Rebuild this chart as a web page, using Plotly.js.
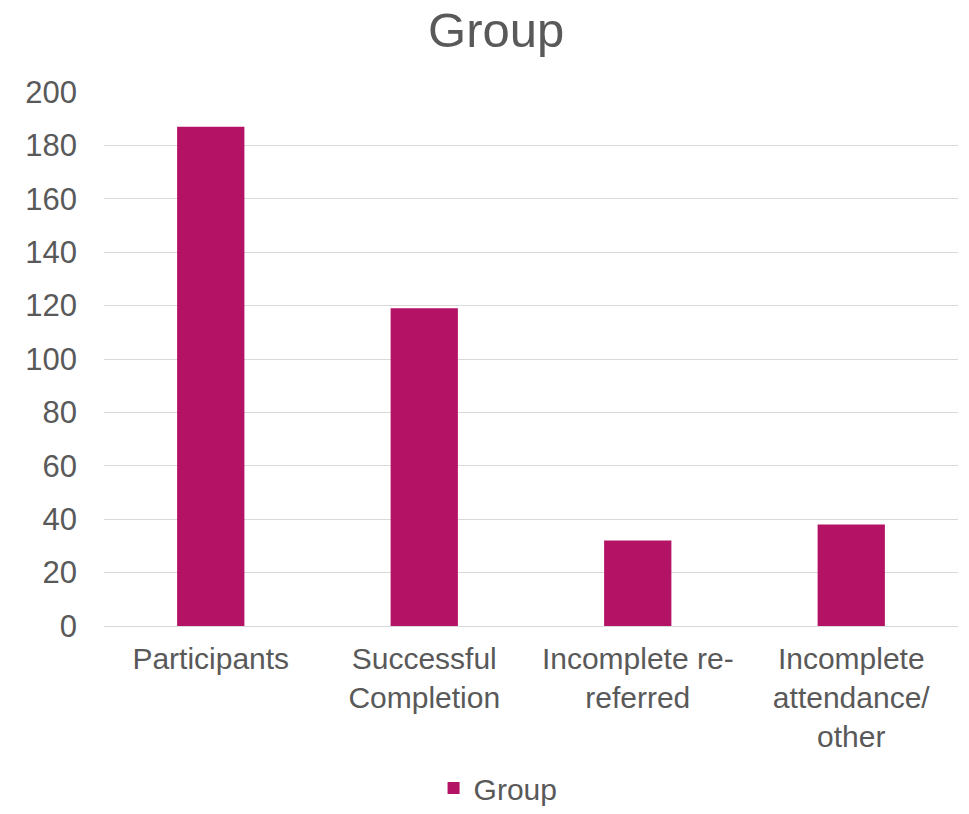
<!DOCTYPE html>
<html>
<head>
<meta charset="utf-8">
<script src="https://cdn.plot.ly/plotly-3.0.1.min.js"></script>
<style>html,body{margin:0;padding:0;background:#fff;}#chart{width:969px;height:814px;}</style>
</head>
<body>
<div id="chart"></div>
<script>
const categories = ["Participants", "Successful<br>Completion", "Incomplete re-<br>referred", "Incomplete<br>attendance/<br>other"];
const seriesName = "Group";
const values = [187, 119, 32, 38];
const yTicks = [0, 20, 40, 60, 80, 100, 120, 140, 160, 180, 200];

const font = "Liberation Sans, Arial, sans-serif";
const txt = "#595959";

Plotly.newPlot("chart", [{
  type: "bar",
  x: categories,
  y: values,
  name: seriesName,
  marker: {color: "#B41264"},
  showlegend: true
}], {
  width: 969, height: 814,
  margin: {l: 104, r: 11, t: 92, b: 188},
  paper_bgcolor: "#fff", plot_bgcolor: "#fff",
  font: {family: font, color: txt, size: 30},
  title: {text: "Group", font: {size: 49, color: txt, family: font}, x: 0.512, xref: "container", xanchor: "center", y: 0.963, yref: "container", yanchor: "middle"},
  bargap: 0.685,
  xaxis: {type: "category", automargin: false, showgrid: false, zeroline: false, showline: true, linecolor: "#d9d9d9", linewidth: 1, ticks: "", tickfont: {size: 30, color: txt}, ticklabelstandoff: 6},
  yaxis: {range: [0, 200], automargin: false, tickvals: yTicks, showgrid: true, gridcolor: "#d9d9d9", gridwidth: 1, zeroline: false, showline: false, ticks: "", tickfont: {size: 31, color: txt}, ticklabelstandoff: 26},
  legend: {orientation: "h", x: 0.514, xanchor: "center", xref: "container", y: -0.005, yref: "container", yanchor: "bottom", font: {size: 30, color: txt}},
  showlegend: true
}, {displayModeBar: false, staticPlot: true});
</script>
</body>
</html>
